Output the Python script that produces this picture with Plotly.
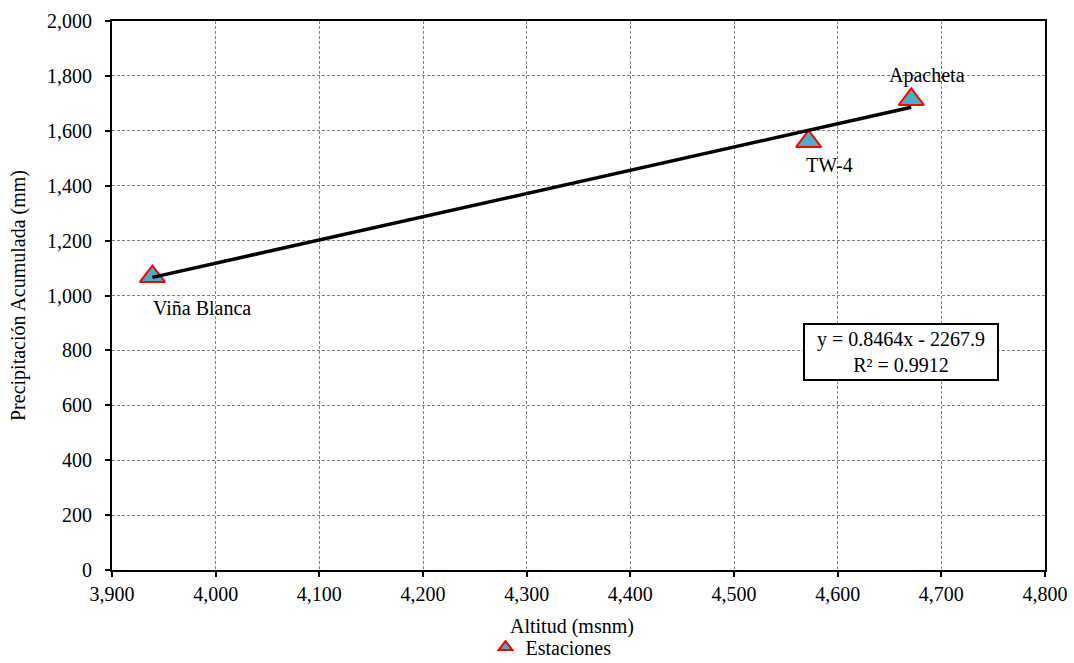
import plotly.graph_objects as go

# Data
stations = ["Viña Blanca", "TW-4", "Apacheta"]
altitude = [3939, 4572, 4671]
precip = [1069, 1561, 1714]
slope = 0.8464
intercept = -2267.9
r2 = 0.9912

x_ticks = [3900, 4000, 4100, 4200, 4300, 4400, 4500, 4600, 4700, 4800]
y_ticks = [0, 200, 400, 600, 800, 1000, 1200, 1400, 1600, 1800, 2000]

FONT = "Liberation Serif"
FS = 20

fig = go.Figure()

# trend line from the regression equation
tx = [min(altitude), max(altitude)]
ty = [slope * v + intercept for v in tx]

fig.add_trace(go.Scatter(
    x=altitude, y=precip, mode="markers", name="Estaciones",
    marker=dict(symbol="triangle-up", size=22, color="#4BACC6",
                line=dict(color="#FF0000", width=2)),
))
fig.add_trace(go.Scatter(
    x=tx, y=ty, mode="lines", showlegend=False,
    line=dict(color="black", width=3.5), hoverinfo="skip",
))

# point labels
label_cfg = [
    dict(xanchor="left", xshift=-1, yshift=-31),
    dict(xanchor="center", xshift=21, yshift=-23),
    dict(xanchor="center", xshift=16, yshift=24),
]
for name, xv, yv, cfg in zip(stations, altitude, precip, label_cfg):
    fig.add_annotation(x=xv, y=yv, text=name, showarrow=False,
                       yanchor="middle", font=dict(family=FONT, size=FS, color="black"),
                       **cfg)

fig.add_annotation(
    xref="paper", yref="paper", x=0.846, y=0.397,
    xanchor="center", yanchor="middle",
    text=f"y = {slope}x - {abs(intercept)}<br>R² = {r2}",
    showarrow=False, align="center",
    font=dict(family=FONT, size=FS, color="black"),
    bgcolor="white", bordercolor="black", borderwidth=2, borderpad=0,
    width=192, height=54,
)

# x-axis title
fig.add_annotation(
    xref="paper", yref="paper", x=0.4925, y=-0.1038,
    xanchor="center", yanchor="middle", showarrow=False,
    text="Altitud (msnm)", font=dict(family=FONT, size=FS, color="black"),
)

axis_common = dict(
    showline=True, linecolor="black", linewidth=2, mirror=True,
    ticks="outside", ticklen=5, tickcolor="black", tickwidth=1.5,
    showgrid=True, gridcolor="#808080", gridwidth=1, griddash="3px,2px",
    zeroline=False, automargin=False,
    tickfont=dict(family=FONT, size=FS, color="black"),
)

fig.update_xaxes(
    range=[3900, 4800], tickvals=x_ticks,
    ticktext=[f"{v:,}" for v in x_ticks],
    **axis_common,
)
fig.update_yaxes(
    range=[0, 2000], tickvals=y_ticks,
    ticktext=[f"{v:,}" for v in y_ticks],
    ticklabelstandoff=9,
    title=dict(text="Precipitación Acumulada (mm)", font=dict(family=FONT, size=FS, color="black"), standoff=16),
    **axis_common,
)

fig.update_layout(
    width=1074, height=663,
    margin=dict(l=112, r=29, t=21, b=93, autoexpand=False),
    paper_bgcolor="white", plot_bgcolor="white",
    font=dict(family=FONT, size=FS, color="black"),
    showlegend=True,
    legend=dict(orientation="h", xref="container", yref="container",
                x=0.513, y=0.024, xanchor="center", yanchor="middle",
                font=dict(family=FONT, size=FS, color="black"),
                itemsizing="constant", bgcolor="rgba(0,0,0,0)",
                itemwidth=30),
)

fig.write_html("out.html")
